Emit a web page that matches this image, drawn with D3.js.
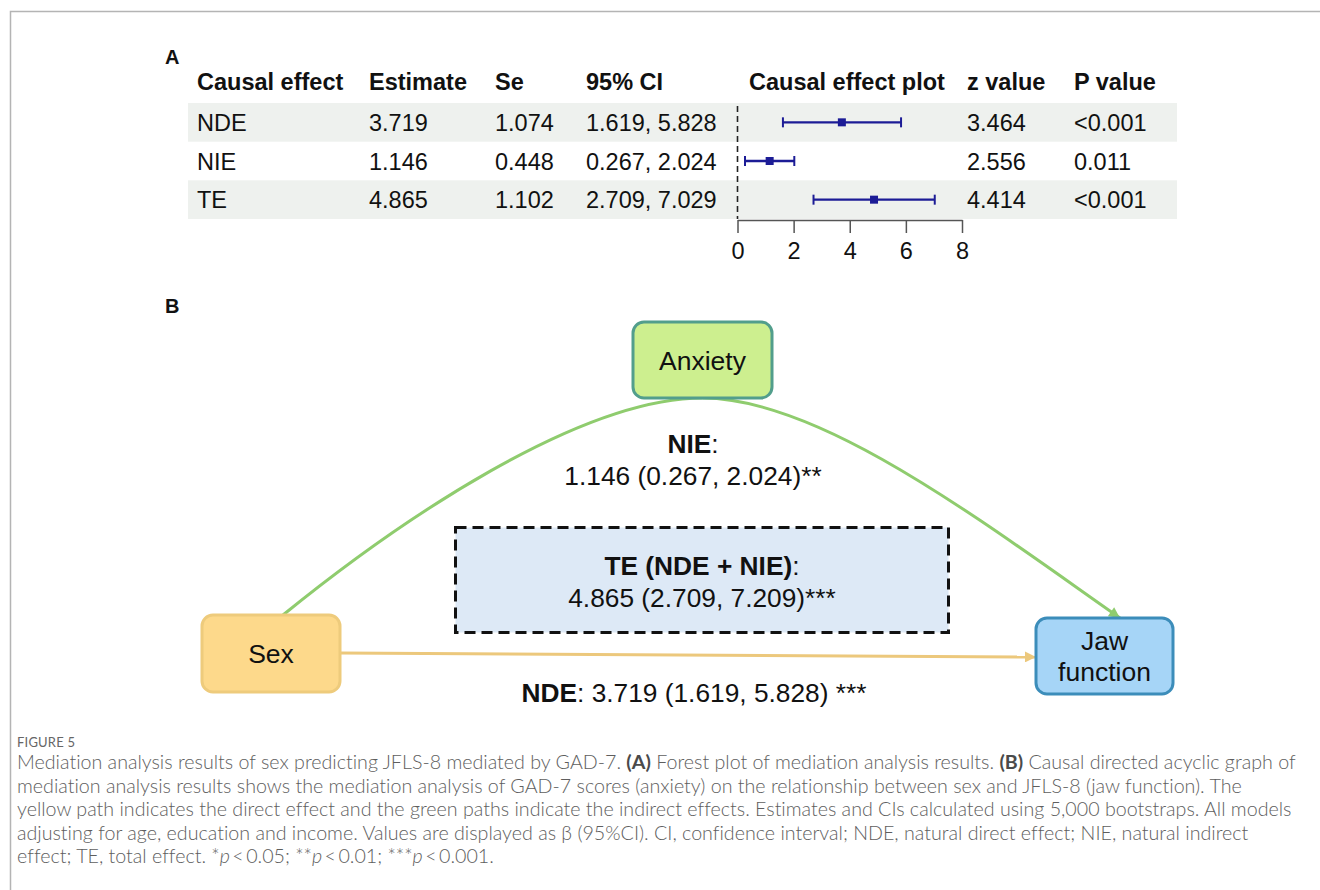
<!DOCTYPE html>
<html>
<head>
<meta charset="utf-8">
<script src="https://cdn.jsdelivr.net/npm/d3@7"></script>
<style>
  html, body { margin: 0; padding: 0; background: #fff; }
  svg { display: block; }
</style>
</head>
<body>
<svg id="fig" width="1320" height="890"></svg>
<script>
// ---- Forest table (panel A) ----
const effects   = ["NDE", "NIE", "TE"];
const estimates = [3.719, 1.146, 4.865];
const stdErrors = [1.074, 0.448, 1.102];
const ciLow     = [1.619, 0.267, 2.709];
const ciHigh    = [5.828, 2.024, 7.029];
const zValues   = [3.464, 2.556, 4.414];
const pValues   = ["<0.001", "0.011", "<0.001"];
const axisTicks = [0, 2, 4, 6, 8];
const headers   = ["Causal effect", "Estimate", "Se", "95% CI", "Causal effect plot", "z value", "P value"];

// ---- Causal diagram (panel B) ----
const nodeNames  = ["Sex", "Anxiety", "Jaw function"];
const nieText    = ["NIE", "1.146 (0.267, 2.024)**"];
const teText     = ["TE (NDE + NIE)", "4.865 (2.709, 7.209)***"];
const ndeText    = ["NDE", "3.719 (1.619, 5.828) ***"];

// ---- Caption ----
const captionTitle = "FIGURE 5";
const captionLines = [
  [["Mediation analysis results of sex predicting JFLS-8 mediated by GAD-7. "], ["(A)", "b"], [" Forest plot of mediation analysis results. "], ["(B)", "b"], [" Causal directed acyclic graph of"]],
  [["mediation analysis results shows the mediation analysis of GAD-7 scores (anxiety) on the relationship between sex and JFLS-8 (jaw function). The"]],
  [["yellow path indicates the direct effect and the green paths indicate the indirect effects. Estimates and CIs calculated using 5,000 bootstraps. All models"]],
  [["adjusting for age, education and income. Values are displayed as \u03b2 (95%CI). CI, confidence interval; NDE, natural direct effect; NIE, natural indirect"]],
  [["effect; TE, total effect. *"], ["p", "i"], ["\u2009<\u20090.05; **"], ["p", "i"], ["\u2009<\u20090.01; ***"], ["p", "i"], ["\u2009<\u20090.001."]]
];

const svg = d3.select("#fig");
const ARIAL = "'Liberation Sans', Arial, sans-serif";

// page frame
svg.append("path")
  .attr("d", "M10.5,890 V11.5 H1320")
  .attr("fill", "none").attr("stroke", "#b4b4b4").attr("stroke-width", 1.5);

// ===== Panel A =====
const gA = svg.append("g").attr("font-family", ARIAL).attr("fill", "#111");

gA.append("text").attr("x", 165).attr("y", 64).attr("font-size", 20)
  .attr("font-weight", "bold").text("A");

const y = d3.scaleBand().domain(effects).range([103, 219]);
const x = d3.scaleLinear().domain([0, 8]).range([737.5, 962]);

// shaded alternate rows
gA.selectAll("rect.band").data(effects.filter((d, i) => i % 2 === 0)).join("rect")
  .attr("class", "band")
  .attr("x", 188).attr("width", 989)
  .attr("y", d => y(d)).attr("height", y.bandwidth())
  .attr("fill", "#eef1ee");

const colX = [197, 369, 495, 586, 749, 967, 1074];
const fs = 23.5;

gA.selectAll("text.hdr").data(headers).join("text")
  .attr("class", "hdr")
  .attr("x", (d, i) => colX[i]).attr("y", 90)
  .attr("font-size", fs).attr("font-weight", "bold")
  .text(d => d);

const rowCols = [
  effects,
  estimates.map(d => d.toFixed(3)),
  stdErrors.map(d => d.toFixed(3)),
  ciLow.map((d, i) => d.toFixed(3) + ", " + ciHigh[i].toFixed(3)),
  null,
  zValues.map(d => d.toFixed(3)),
  pValues
];
rowCols.forEach((col, ci) => {
  if (!col) return;
  gA.selectAll("text.c" + ci).data(col).join("text")
    .attr("class", "c" + ci)
    .attr("x", colX[ci])
    .attr("y", (d, i) => y(effects[i]) + y.bandwidth() / 2 + 8.5)
    .attr("font-size", fs)
    .text(d => d);
});

// reference line at zero
gA.append("line")
  .attr("x1", x(0)).attr("x2", x(0))
  .attr("y1", 106).attr("y2", 219)
  .attr("stroke", "#222").attr("stroke-width", 1.6)
  .attr("stroke-dasharray", "6,4");

// confidence intervals
const navy = "#1c1c96";
const rows = effects.map((e, i) => ({ e, est: estimates[i], lo: ciLow[i], hi: ciHigh[i] }));
const ci = gA.selectAll("g.ci").data(rows).join("g").attr("class", "ci")
  .attr("transform", d => `translate(0,${y(d.e) + y.bandwidth() / 2})`);
ci.append("line").attr("x1", d => x(d.lo)).attr("x2", d => x(d.hi))
  .attr("stroke", navy).attr("stroke-width", 2.4);
ci.append("line").attr("x1", d => x(d.lo)).attr("x2", d => x(d.lo))
  .attr("y1", -5).attr("y2", 5).attr("stroke", navy).attr("stroke-width", 2);
ci.append("line").attr("x1", d => x(d.hi)).attr("x2", d => x(d.hi))
  .attr("y1", -5).attr("y2", 5).attr("stroke", navy).attr("stroke-width", 2);
ci.append("rect").attr("x", d => x(d.est) - 4).attr("y", -4)
  .attr("width", 8).attr("height", 8).attr("fill", navy);

// x axis
const axis = gA.append("g").attr("transform", "translate(0,220)")
  .call(d3.axisBottom(x).tickValues(axisTicks).tickSize(13).tickSizeOuter(0).tickPadding(9));
axis.select(".domain").attr("stroke", "#555").attr("stroke-width", 1.5);
axis.selectAll(".tick line").attr("stroke", "#555").attr("stroke-width", 1.5);
axis.selectAll(".tick text").attr("font-family", ARIAL).attr("font-size", fs).attr("fill", "#111");

// ===== Panel B =====
const gB = svg.append("g").attr("font-family", ARIAL).attr("fill", "#111");
gB.append("text").attr("x", 165).attr("y", 313).attr("font-size", 20)
  .attr("font-weight", "bold").text("B");

const defs = svg.append("defs");
function arrow(id, color) {
  defs.append("marker").attr("id", id)
    .attr("viewBox", "0 0 10 10").attr("refX", 10).attr("refY", 5)
    .attr("markerWidth", 12).attr("markerHeight", 11)
    .attr("markerUnits", "userSpaceOnUse")
    .attr("orient", "auto")
    .append("path").attr("d", "M0,0 L10,5 L0,10 Z").attr("fill", color);
}
arrow("arrGreen", "#8fcc6e");
arrow("arrYellow", "#ecc87c");

// node layout
const nodeBoxes = {
  "Sex":          { x: 202,  y: 615, w: 138, h: 77, fill: "#fdd98b", stroke: "#eecb7c" },
  "Anxiety":      { x: 633,  y: 322, w: 139, h: 76, fill: "#cdef8f", stroke: "#529e8c" },
  "Jaw function": { x: 1036, y: 618, w: 137, h: 76, fill: "#a6d5f7", stroke: "#3c8dba" }
};

// dashed total-effect box
gB.append("rect").attr("x", 455.5).attr("y", 527.5).attr("width", 493).attr("height", 105)
  .attr("fill", "#dde9f6").attr("stroke", "#111").attr("stroke-width", 3)
  .attr("stroke-dasharray", "11,6");

// indirect path (green) : Sex -> Anxiety -> Jaw function
const sexB = nodeBoxes["Sex"], anxB = nodeBoxes["Anxiety"], jawB = nodeBoxes["Jaw function"];
const pLeft = d3.path();
pLeft.moveTo(283, sexB.y);
pLeft.bezierCurveTo(400, 520, 580, anxB.y + anxB.h, anxB.x + anxB.w / 2, anxB.y + anxB.h);
gB.append("path").attr("d", pLeft.toString()).attr("fill", "none")
  .attr("stroke", "#8fcc6e").attr("stroke-width", 3);
const pRight = d3.path();
pRight.moveTo(anxB.x + anxB.w / 2, anxB.y + anxB.h);
pRight.bezierCurveTo(820, anxB.y + anxB.h, 980, 520, 1120, jawB.y);
gB.append("path").attr("d", pRight.toString()).attr("fill", "none")
  .attr("stroke", "#8fcc6e").attr("stroke-width", 3)
  .attr("marker-end", "url(#arrGreen)");

// direct path (yellow)
gB.append("line")
  .attr("x1", sexB.x + sexB.w).attr("y1", 653)
  .attr("x2", jawB.x).attr("y2", 657)
  .attr("stroke", "#ecc87c").attr("stroke-width", 3)
  .attr("marker-end", "url(#arrYellow)");

// nodes
nodeNames.forEach(name => {
  const b = nodeBoxes[name];
  gB.append("rect").attr("x", b.x).attr("y", b.y).attr("width", b.w).attr("height", b.h)
    .attr("rx", 11).attr("fill", b.fill).attr("stroke", b.stroke).attr("stroke-width", 3);
  const words = name === "Jaw function" ? ["Jaw", "function"] : [name];
  const t = gB.append("text").attr("text-anchor", "middle").attr("font-size", 26.5);
  words.forEach((w, i) => {
    t.append("tspan").attr("x", b.x + b.w / 2)
      .attr("y", b.y + b.h / 2 + 9.5 + (i - (words.length - 1) / 2) * 31)
      .text(w);
  });
});

// effect labels
const labelFs = 26.3;
function boldColon(tx, ty, label) {
  const t = gB.append("text").attr("x", tx).attr("y", ty).attr("text-anchor", "middle").attr("font-size", labelFs);
  t.append("tspan").attr("font-weight", "bold").text(label);
  t.append("tspan").text(":");
}
boldColon(693, 453, nieText[0]);
gB.append("text").attr("x", 693).attr("y", 485).attr("text-anchor", "middle")
  .attr("font-size", labelFs).text(nieText[1]);

boldColon(702, 575, teText[0]);
gB.append("text").attr("x", 702).attr("y", 607).attr("text-anchor", "middle")
  .attr("font-size", labelFs).text(teText[1]);

const nde = gB.append("text").attr("x", 694).attr("y", 702).attr("text-anchor", "middle")
  .attr("font-size", labelFs);
nde.append("tspan").attr("font-weight", "bold").text(ndeText[0]);
nde.append("tspan").text(": " + ndeText[1]);

// ===== Caption =====
const CAP_FONT = "Lato, 'Open Sans', sans-serif";
svg.append("text").attr("x", 17).attr("y", 747)
  .attr("font-family", CAP_FONT).attr("font-size", 13).attr("fill", "#666")
  .attr("letter-spacing", 0.2).text(captionTitle);

const capG = svg.append("g").attr("font-family", CAP_FONT).attr("fill", "#5e5e5e")
  .attr("font-weight", 300)
  .style("font-variant-ligatures", "none");
const capBase = [769, 793, 816, 840, 863];
const capTexts = captionLines.map((segs, li) => {
  const t = capG.append("text").attr("x", 17).attr("y", capBase[li]).attr("font-size", 16.5);
  segs.forEach(([s, st]) => {
    const ts = t.append("tspan").text(s);
    if (st === "b") ts.attr("font-weight", "bold").attr("fill", "#4a4a4a");
    if (st === "i") ts.attr("font-style", "italic");
  });
  return t;
});
// size the caption so that the first line spans the text block
const w0 = capTexts[0].node().getComputedTextLength();
const capSize = 16.5 * 1279 / w0;
capTexts.forEach(t => t.attr("font-size", capSize));
</script>
</body>
</html>
